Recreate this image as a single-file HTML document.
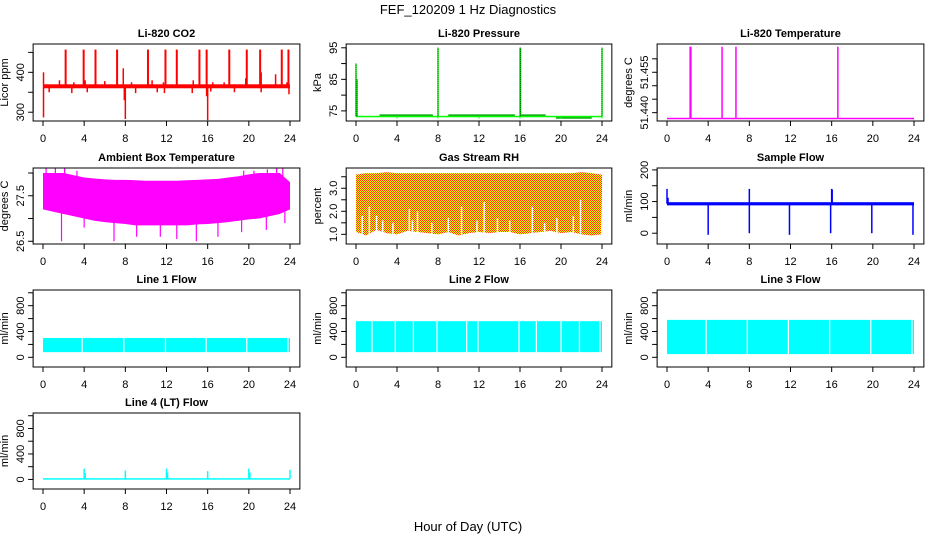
<!DOCTYPE html>
<html><head><meta charset="utf-8">
<style>
html,body{margin:0;padding:0;background:#fff;}
svg{display:block;font-family:"Liberation Sans",Helvetica,Arial,sans-serif;}
</style></head>
<body>
<svg id="chart" width="936" height="540" viewBox="0 0 936 540" xmlns="http://www.w3.org/2000/svg">
<defs>
<pattern id="rhpat" width="2" height="2" patternUnits="userSpaceOnUse">
<rect width="2" height="2" fill="#ffff00"/>
<rect x="0" y="0" width="1" height="1" fill="#ff3300"/>
<rect x="1" y="1" width="1" height="1" fill="#ff3300"/>
</pattern>
</defs>
<text x="468" y="14" font-size="13" text-anchor="middle">FEF_120209  1 Hz Diagnostics</text>
<text x="468" y="531" font-size="13" text-anchor="middle">Hour of Day (UTC)</text>
<g id="panels"></g>
</svg>
<script>
// ---- shared axis data ----
const hourTicks = [0,4,8,12,16,20,24];

// ---- Li-820 CO2 ----
const co2BandLow = 360, co2BandHigh = 370;
const co2SpikeHours = [2.2,3.95,5.1,7.2,10.2,11.9,13.0,15.2,15.9,18.1,19.8,21.1,23.2,23.85];
const co2SpikeValues = [457,457,457,457,457,457,457,457,457,457,457,457,457,457];
const co2MidHours = [0.05,1.6,3.0,4.1,6.0,7.8,8.6,10.6,11.7,14.6,16.5,17.6,18.6,19.7,21.2,22.6,23.7];
const co2MidValues = [400,380,375,380,378,410,375,380,375,380,375,375,370,385,400,395,375];
const co2DipHours = [0.05,0.6,2.8,4.3,7.9,8.0,9.0,11.1,11.8,14.5,15.9,16.0,16.3,18.6,21.2,23.9];
const co2DipValues = [287,350,348,350,330,283,348,350,348,348,340,280,352,350,350,345];

// ---- Li-820 Pressure ----
const presBase = 73.3;
const presStepStart = [2.3,9.0,16.0,19.5];
const presStepEnd = [7.5,15.5,18.5,23.0];
const presStepValue = [73.8,73.8,73.8,72.9];
const presSpikeHours = [0.0,0.1,8.0,16.0,16.05,24.0];
const presSpikeValues = [90,85,95,95,95,95];
const presDipHours = [4,8,12,16,20,24];
const presDipValues = [72.6,72.6,72.6,72.6,72.6,72.6];

// ---- Li-820 Temperature ----
const ltBase = 51.4379;
const ltSpikeHours = [2.25,2.32,5.35,6.7,16.6];
const ltSpikeValues = [51.4645,51.4645,51.4645,51.4645,51.4645];

// ---- Ambient Box Temperature ----
const abHours = [0,1,2,3,4,5,6,7,8,9,10,11,12,13,14,15,16,17,18,19,20,21,22,23,24];
const abUpper = [28.0,28.0,28.0,27.95,27.9,27.88,27.86,27.85,27.85,27.84,27.83,27.83,27.83,27.83,27.84,27.85,27.86,27.87,27.9,27.93,27.97,28.0,28.0,28.0,27.8];
const abLower = [27.2,27.15,27.1,27.05,27.0,26.95,26.92,26.9,26.88,26.85,26.85,26.85,26.85,26.85,26.85,26.87,26.88,26.9,26.92,26.95,26.98,27.0,27.05,27.1,27.2];
const abPeakHours = [0.3,1.2,2.1,3.3,19.5,20.5,21.8,22.7,23.3];
const abPeakValues = [28.1,28.1,28.1,28.05,28.05,28.05,28.08,28.1,28.1];
const abDipHours = [1.8,4.0,6.9,9.1,11.4,13.0,14.9,17.0,19.3,21.7,23.5];
const abDipValues = [26.5,26.8,26.5,26.6,26.6,26.55,26.5,26.6,26.7,26.75,26.9];

// ---- Gas Stream RH ----
const rhHours = [0,1,2,3,4,5,6,7,8,9,10,11,12,13,14,15,16,17,18,19,20,21,22,23,23.9,24];
const rhUpper = [3.6,3.65,3.65,3.7,3.65,3.65,3.65,3.65,3.65,3.65,3.65,3.65,3.65,3.65,3.65,3.65,3.65,3.65,3.65,3.65,3.65,3.65,3.7,3.65,3.6,3.55];
const rhLower = [1.1,0.95,1.2,1.05,1.0,1.15,1.1,1.05,1.0,1.1,0.95,1.05,1.1,1.05,1.1,1.1,1.0,1.05,1.1,1.15,1.05,1.1,1.0,0.95,1.0,2.9];
const rhGapHours = [0.6,1.3,2.0,2.6,3.6,5.2,5.5,6.0,7.4,9.0,10.3,11.8,12.5,13.8,15.0,17.2,18.4,19.6,21.2,21.9];
const rhGapValues = [1.8,2.2,1.8,1.6,1.5,2.1,1.6,2.0,1.5,1.7,2.2,1.6,2.4,1.7,1.6,2.2,1.5,1.7,1.8,2.5];

// ---- Sample Flow ----
const sfBandLow = 88, sfBandHigh = 98;
const sfSpikeHours = [0.0,0.1,8.0,16.0,16.05];
const sfSpikeValues = [140,112,140,140,138];
const sfDipHours = [4.0,8.0,11.9,15.9,19.9,23.9];
const sfDipValues = [-5,0,-5,0,0,-5];

// ---- Line flows ----
const l1Low = 80, l1High = 300;
const l1Gaps = [3.8,7.85,11.9,15.85,19.8,23.8];
const l2Low = 80, l2High = 560;
const l2Gaps = [1.56,3.83,5.6,7.9,10.8,11.9,15.9,17.6,20.0,21.8,23.8];
const l3Low = 50, l3High = 580;
const l3Gaps = [3.8,7.8,11.8,15.8,19.8,23.8];
const l4BandLow = 0, l4BandHigh = 20;
const l4SpikeHours = [4.0,4.1,8.0,12.0,12.1,16.0,20.0,20.1,24.0];
const l4SpikeValues = [170,100,140,170,110,130,170,110,150];

// ---- layout ----
const colX0 = [43,356,667], colX24 = [290,602,914];
const rowTop = [44,168,290,413], rowBot = [121,244,367,489];
const NS = 'http://www.w3.org/2000/svg';
const root = document.getElementById('panels');

function mk(tag, attrs, parent){
  const e = document.createElementNS(NS, tag);
  for (const k in attrs) e.setAttribute(k, attrs[k]);
  parent.appendChild(e);
  return e;
}

function panel(key, title, ytitle, col, row, ymin, ymax, yticks, ylabels){
  const g = document.createElementNS(NS,'g');
  
  
  root.appendChild(g);
  const x0 = colX0[col], x24 = colX24[col];
  const sx = h => x0 + (x24 - x0) * h / 24;
  const top = rowTop[row], bot = rowBot[row];
  const sy = v => bot - (v - ymin) / (ymax - ymin) * (bot - top);
  const left = sx(-0.96), right = sx(24.96);
  const plot = document.createElementNS(NS,'g');
  
  
  g.appendChild(plot);
  const box = mk('rect', {x:left, y:top, width:right-left, height:bot-top, fill:'none', stroke:'#000', 'stroke-width':1}, g);
  
  
  const t = mk('text', {x:(left+right)/2, y:top-7, 'font-size':11, 'font-weight':'bold', 'text-anchor':'middle'}, g);
  t.textContent = title;
  
  
  const xa = document.createElementNS(NS,'g');
  
  
  g.appendChild(xa);
  mk('line', {x1:sx(0), x2:sx(24), y1:bot, y2:bot, stroke:'#000'}, xa);
  hourTicks.forEach(h => {
    mk('line', {x1:sx(h), x2:sx(h), y1:bot, y2:bot+5, stroke:'#000'}, xa);
    const l = mk('text', {x:sx(h), y:bot+21, 'font-size':11, 'text-anchor':'middle'}, xa);
    l.textContent = h;
  });
  const ya = document.createElementNS(NS,'g');
  
  
  g.appendChild(ya);
  mk('line', {x1:left, x2:left, y1:sy(yticks[0]), y2:sy(yticks[yticks.length-1]), stroke:'#000'}, ya);
  yticks.forEach(v => {
    mk('line', {x1:left-5, x2:left, y1:sy(v), y2:sy(v), stroke:'#000'}, ya);
  });
  ylabels.forEach(s => {
    const tx = left - 9, ty = sy(parseFloat(s));
    const l = mk('text', {x:tx, y:ty, 'font-size':11, 'text-anchor':'middle', transform:`rotate(-90 ${tx} ${ty})`}, ya);
    l.textContent = s;
  });
  const yt = mk('text', {x:left-25, y:(top+bot)/2, 'font-size':11, 'text-anchor':'middle', transform:`rotate(-90 ${left-25} ${(top+bot)/2})`}, g);
  yt.textContent = ytitle;
  
  
  return {g:plot, sx, sy};
}

function vline(p, h, v1, v2, color, w, cls){
  const e = mk('line', {x1:p.sx(h), x2:p.sx(h), y1:p.sy(v1), y2:p.sy(v2), stroke:color, 'stroke-width':w||1.5}, p.g);
  
  
  return e;
}
function band(p, h1, h2, lo, hi, color, name){
  const e = mk('rect', {x:p.sx(h1), y:p.sy(hi), width:Math.max(0.5,p.sx(h2)-p.sx(h1)), height:Math.max(1.5,p.sy(lo)-p.sy(hi)), fill:color}, p.g);
  
  
  return e;
}
function envelope(p, hrs, up, lo, fill, name){
  let d = 'M' + hrs.map((h,i)=>p.sx(h)+','+p.sy(up[i])).join('L');
  d += 'L' + hrs.slice().reverse().map((h,i)=>p.sx(h)+','+p.sy(lo[lo.length-1-i])).join('L') + 'Z';
  const e = mk('path', {d:d, fill:fill}, p.g);
  
  
}
function gappedBand(p, lo, hi, gaps, color, name){
  let s = 0;
  gaps.forEach(gp => { band(p, s, gp - 0.06, lo, hi, color, name); s = gp + 0.06; });
  band(p, s, 24, lo, hi, color, name);
}

// CO2
let p = panel('co2', 'Li-820 CO2', 'Licor ppm', 0, 0, 278, 471, [300,350,400,450], ['300','400']);
band(p, 0, 24, co2BandLow, co2BandHigh, '#ff0000', 'co2-baseline');
co2SpikeHours.forEach((h,i)=>vline(p, h, 365, co2SpikeValues[i], '#ff0000', 2, 'co2-spike'));
co2MidHours.forEach((h,i)=>vline(p, h, 365, co2MidValues[i], '#ff0000', 1.5, 'co2-spike'));
co2DipHours.forEach((h,i)=>vline(p, h, 365, co2DipValues[i], '#ff0000', 1.5, 'co2-dip'));

// Pressure
p = panel('pressure', 'Li-820 Pressure', 'kPa', 1, 0, 71.8, 96.2, [75,80,85,90,95], ['75','85','95']);
band(p, 0, 24, presBase-0.15, presBase+0.15, '#00ff00', 'pressure-baseline');
presStepStart.forEach((s,i)=>band(p, s, presStepEnd[i], presStepValue[i]-0.1, presStepValue[i]+0.1, '#00aa00', 'pressure-step'));
presDipHours.forEach((h,i)=>band(p, h-0.05, h+0.05, presDipValues[i], presBase, '#00ff00', 'pressure-dip'));
presSpikeHours.forEach((h,i)=>{
  vline(p, h, presBase, presSpikeValues[i], '#00ff00', 1.5, 'pressure-spike');
  const e = vline(p, h, presBase, presSpikeValues[i], '#004400', 1, 'pressure-spike');
  e.setAttribute('stroke-dasharray','1,1');
});

// Li-820 Temperature
p = panel('li820-temp', 'Li-820 Temperature', 'degrees C', 2, 0, 51.4369, 51.4655, [51.440,51.445,51.450,51.455,51.460], ['51.440','51.455']);
band(p, 0, 24, ltBase-0.0002, ltBase+0.0002, '#ff00ff', 'li820-temp-baseline');
ltSpikeHours.forEach((h,i)=>vline(p, h, ltBase, ltSpikeValues[i], '#ff00ff', 1.5, 'li820-temp-spike'));

// Ambient box temp
p = panel('ambient-temp', 'Ambient Box Temperature', 'degrees C', 0, 1, 26.44, 28.11, [26.5,27.0,27.5,28.0], ['26.5','27.5']);
envelope(p, abHours, abUpper, abLower, '#ff00ff', 'ambient-temp-band');
abPeakHours.forEach((h,i)=>vline(p, h, 27.5, abPeakValues[i], '#ff00ff', 1.2, 'ambient-temp-peak'));
abDipHours.forEach((h,i)=>vline(p, h, 27.2, abDipValues[i], '#ff00ff', 1.2, 'ambient-temp-dip'));

// Gas stream RH
p = panel('rh', 'Gas Stream RH', 'percent', 1, 1, 0.58, 3.88, [1.0,1.5,2.0,2.5,3.0,3.5], ['1.0','2.0','3.0']);
envelope(p, rhHours, rhUpper, rhLower, 'url(#rhpat)', 'rh-band');
rhGapHours.forEach((h,i)=>vline(p, h, 0.9, rhGapValues[i], '#ffffff', 1.5, 'rh-gap'));

// Sample flow
p = panel('sample-flow', 'Sample Flow', 'ml/min', 2, 1, -34, 206, [0,50,100,150,200], ['0','100','200']);
band(p, 0, 24, sfBandLow, sfBandHigh, '#0000ff', 'sample-flow-band');
sfSpikeHours.forEach((h,i)=>vline(p, h, 93, sfSpikeValues[i], '#0000ff', 1.5, 'sample-flow-spike'));
sfDipHours.forEach((h,i)=>vline(p, h, 93, sfDipValues[i], '#0000ff', 1.5, 'sample-flow-dip'));

// Line flows
const lfTicks = [0,200,400,600,800,1000], lfLabels = ['0','400','800'];
p = panel('line1-flow', 'Line 1 Flow', 'ml/min', 0, 2, -150, 1043, lfTicks, lfLabels);
gappedBand(p, l1Low, l1High, l1Gaps, '#00ffff', 'line1-flow-band');
p = panel('line2-flow', 'Line 2 Flow', 'ml/min', 1, 2, -150, 1043, lfTicks, lfLabels);
gappedBand(p, l2Low, l2High, l2Gaps, '#00ffff', 'line2-flow-band');
p = panel('line3-flow', 'Line 3 Flow', 'ml/min', 2, 2, -150, 1043, lfTicks, lfLabels);
gappedBand(p, l3Low, l3High, l3Gaps, '#00ffff', 'line3-flow-band');
p = panel('line4-flow', 'Line 4 (LT) Flow', 'ml/min', 0, 3, -150, 1043, lfTicks, lfLabels);
band(p, 0, 24, l4BandLow, l4BandHigh, '#00ffff', 'line4-flow-band');
l4SpikeHours.forEach((h,i)=>vline(p, h, 10, l4SpikeValues[i], '#00ffff', 1.5, 'line4-flow-spike'));
</script>
</body></html>
